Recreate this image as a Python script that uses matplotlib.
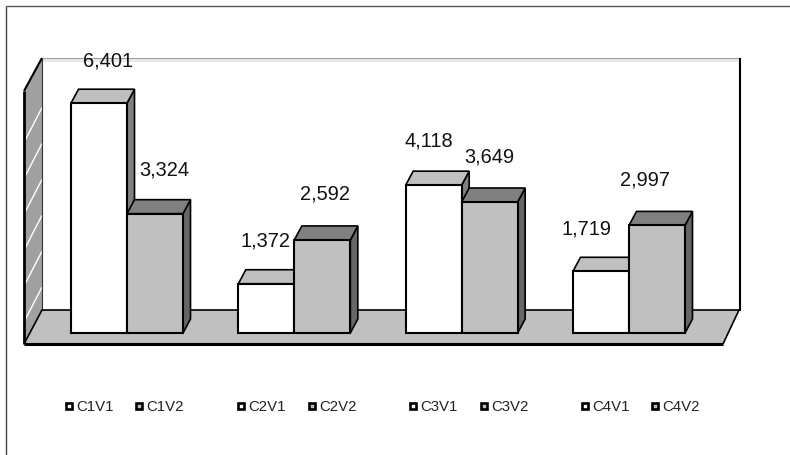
import matplotlib
matplotlib.use('Agg')
import matplotlib.pyplot as plt
from matplotlib.patches import Polygon

plt.rcParams['font.family'] = ['Liberation Sans', 'DejaVu Sans']

# Data
series_1 = [6401, 1372, 4118, 1719]
series_2 = [3324, 2592, 3649, 2997]
legend_labels = ['C1V1', 'C1V2', 'C2V1', 'C2V2', 'C3V1', 'C3V2', 'C4V1', 'C4V2']

# Layout, in pixels of the 790x455 picture
W, H = 790, 455
BASE_PX = 333
ZERO_PX = 127
GROUP_PX = 167.33
PER_UNIT_PX = 0.0359
# label offset from the front top centre of each bar
label_off_1 = [(9, -42), (-1, -43), (-5, -44), (-14, -42)]
label_off_2 = [(9, -44), (3, -46), (0, -45), (-12, -45)]
legend_x = [69, 139, 241, 312, 413, 484, 585, 655]


def X(px):
    return (px - ZERO_PX) / GROUP_PX


def Y(px):
    return (BASE_PX - px) / PER_UNIT_PX


def poly(ax, pts, face, edge='black', lw=1.4):
    pts = [(X(a), Y(b)) for a, b in pts]
    ax.add_patch(Polygon(pts, closed=True, facecolor=face, edgecolor=edge, linewidth=lw,
                         joinstyle='miter', zorder=1))


def line(ax, x, y, color='black', lw=1.5):
    ax.plot([X(a) for a in x], [Y(b) for b in y], color=color, linewidth=lw,
            solid_capstyle='butt', zorder=2)


fig = plt.figure(figsize=(7.9, 4.55), dpi=100)
ax = fig.add_axes([0, 0, 1, 1])
ax.set_xlim(X(0), X(W))
ax.set_ylim(Y(H), Y(0))
ax.axis('off')

# Outer frame
line(ax, [6, 6], [455, 6], color='#444444', lw=1.0)
line(ax, [6, 790], [6, 6], color='#555555', lw=1.0)

# Back wall
line(ax, [42, 739], [59.5, 59.5], color='#e8e8e8', lw=2.2)
line(ax, [42, 739], [58, 58], color='#999999', lw=0.7)
line(ax, [739.5, 739.5], [58, 311], lw=1.5)

# Left wall with its gridlines
poly(ax, [(24, 91), (42, 58), (42, 310), (24, 344)], '#a0a0a0', edge='none', lw=0)
for v in range(1000, 7000, 1000):
    y = BASE_PX - v * PER_UNIT_PX
    line(ax, [25, 42], [y + 23, y - 10], color='white', lw=1.0)
line(ax, [24, 42], [91, 58], lw=1.5)
line(ax, [42, 42], [58, 310], color='#333333', lw=0.8)
line(ax, [24, 24], [91, 344], lw=2.0)

# Floor
poly(ax, [(24, 344), (42, 310), (739, 310), (723, 344)], '#c0c0c0', edge='none', lw=0)
line(ax, [24, 42, 739], [344, 310, 310], lw=1.2)
line(ax, [739, 723], [310, 344], lw=1.2)
line(ax, [24, 723], [344, 344], lw=2.2)

# Bars, each one drawn over the side of the previous one
width = 56 / GROUP_PX
dx, dy = 7.5 / GROUP_PX, 14 / PER_UNIT_PX
z = 3
for i in range(len(series_1)):
    for j, vals in enumerate([series_1, series_2]):
        v = vals[i]
        left = i - width + j * width
        right = left + width
        top_col = '#c0c0c0' if j == 0 else '#808080'
        side_col = '#808080' if j == 0 else '#666666'
        front_col = 'white' if j == 0 else '#c0c0c0'
        ax.add_patch(Polygon([(right, 0), (right + dx, dy), (right + dx, v + dy), (right, v)],
                             facecolor=side_col, edgecolor='black', linewidth=1.2, zorder=z))
        ax.add_patch(Polygon([(left, v), (left + dx, v + dy), (right + dx, v + dy), (right, v)],
                             facecolor=top_col, edgecolor='black', linewidth=1.2, zorder=z))
        ax.bar(left, v, width, align='edge', color=front_col, edgecolor='black', linewidth=1.5, zorder=z + 1)
        z += 2
        off = (label_off_1 if j == 0 else label_off_2)[i]
        ax.annotate(f'{v:,}', xy=(left + width / 2, v), xytext=(off[0] * 0.72, -off[1] * 0.72),
                    textcoords='offset points', ha='center', va='center', fontsize=14.4,
                    color='#111111', zorder=50)

# Legend
for x, lab, col in zip(legend_x, legend_labels, ['white', '#c0c0c0'] * 4):
    ax.plot(X(x), Y(405.5), marker='s', markersize=5.0, markerfacecolor=col,
            markeredgecolor='black', markeredgewidth=1.9, zorder=50)
    ax.text(X(x + 7), Y(407), lab, ha='left', va='center', fontsize=10.8, color='#222222', zorder=50)

fig.savefig('out.png', dpi=100)
